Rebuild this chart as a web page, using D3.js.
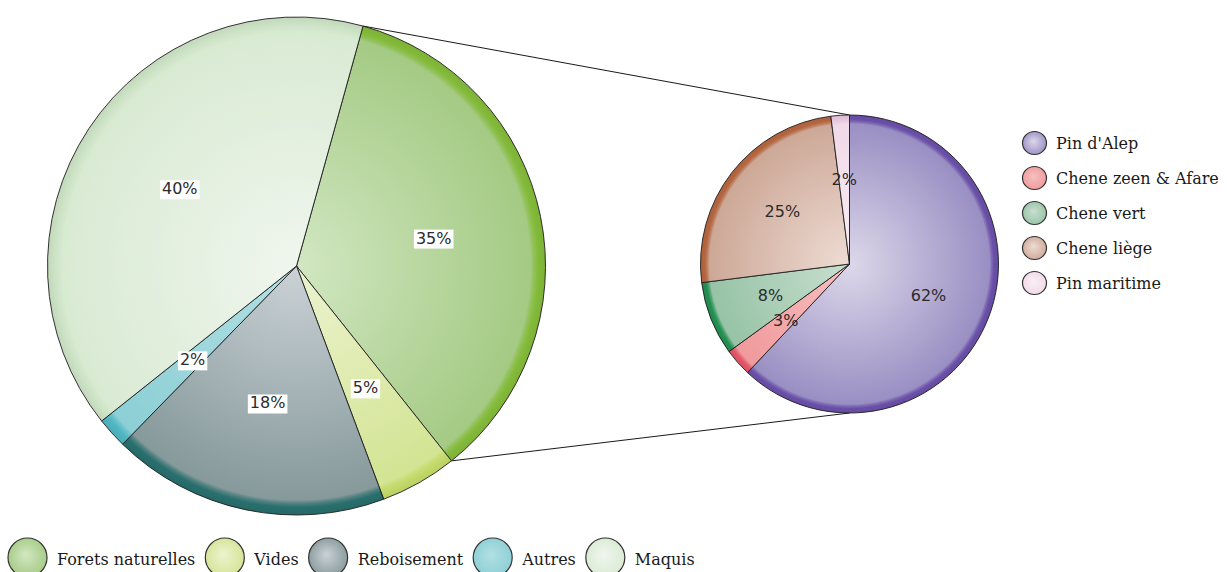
<!DOCTYPE html>
<html>
<head>
<meta charset="utf-8">
<script src="https://cdn.jsdelivr.net/npm/d3@7"></script>
<style>
html,body{margin:0;padding:0;background:#fff;}
svg{display:block;}
</style>
</head>
<body>
<svg id="chart" width="1227" height="572"></svg>
<script>
// ---- data ----
const bigCategories = ["Forets naturelles", "Vides", "Reboisement", "Autres", "Maquis"];
const bigValues = [35, 5, 18, 2, 40];
const bigLabels = ["35%", "5%", "18%", "2%", "40%"];

const smallCategories = ["Pin d'Alep", "Chene zeen & Afare", "Chene vert", "Chene liège", "Pin maritime"];
const smallValues = [62, 3, 8, 25, 2];
const smallLabels = ["62%", "3%", "8%", "25%", "2%"];

// colours: [centre, body, rim]
const bigColors = [
  ["#d2e7c2", "#a4ca84", "#84bb3a"],
  ["#ecf3d0", "#d3e493", "#c3da68"],
  ["#cbd2d6", "#86999b", "#286f6d"],
  ["#b2e0e4", "#8ccfd5", "#4fb6c2"],
  ["#f0f6ee", "#d9ead3", "#cde3c5"]
];
const smallColors = [
  ["#dcd8ea", "#9a8fc3", "#6a4fa8"],
  ["#f6c0c0", "#f09a9c", "#e25566"],
  ["#c8dfcf", "#97c3a6", "#239052"],
  ["#eedcd4", "#cda897", "#b4663f"],
  ["#faeef5", "#f1d9e8", "#e6c5da"]
];

// ---- layout ----
const svg = d3.select("#chart");
const defs = svg.append("defs");
const big = {cx: 296.5, cy: 266, r: 249, labelR: 140};
const small = {cx: 849.5, cy: 264, r: 149, labelR: 85};
const startDeg = 15.5;

function makeGrad(id, c, g) {
  // paths are drawn in a group translated to the pie centre
  const gr = defs.append("radialGradient").attr("id", id)
    .attr("gradientUnits", "userSpaceOnUse")
    .attr("cx", 0).attr("cy", 0).attr("r", g.r)
    .attr("fx", 0).attr("fy", 0);
  gr.append("stop").attr("offset", "0").attr("stop-color", c[0]);
  gr.append("stop").attr("offset", "0.94").attr("stop-color", c[1]);
  gr.append("stop").attr("offset", "0.955").attr("stop-color", d3.interpolateRgb(c[1], c[2])(0.6));
  gr.append("stop").attr("offset", "0.97").attr("stop-color", c[2]);
  gr.append("stop").attr("offset", "1").attr("stop-color", d3.color(c[2]).darker(0.15));
}
function makeLegendGrad(id, c) {
  const gr = defs.append("radialGradient").attr("id", id)
    .attr("cx", "0.5").attr("cy", "0.5").attr("r", "0.55").attr("fx", "0.45").attr("fy", "0.42");
  gr.append("stop").attr("offset", "0").attr("stop-color", c[0]);
  gr.append("stop").attr("offset", "1").attr("stop-color", c[1]);
}

bigColors.forEach((c, i) => { makeGrad("gb" + i, c, big); makeLegendGrad("lb" + i, c); });
smallColors.forEach((c, i) => { makeGrad("gs" + i, c, small); makeLegendGrad("ls" + i, c); });

const a0 = startDeg * Math.PI / 180;
const pie = d3.pie().sort(null).startAngle(a0).endAngle(a0 + 2 * Math.PI);
const bigArcs = pie(bigValues);
const smallPie = d3.pie().sort(null);
const smallArcs = smallPie(smallValues);

// connector lines (from split slice edges to top/bottom of second pie)
const split = bigArcs[0];
const pt = (g, a) => [g.cx + g.r * Math.sin(a), g.cy - g.r * Math.cos(a)];
const p1 = pt(big, split.startAngle), p2 = pt(big, split.endAngle);
const lines = [[p1, [small.cx, small.cy - small.r]], [p2, [small.cx, small.cy + small.r]]];
svg.append("g").selectAll("line").data(lines).join("line")
  .attr("x1", d => d[0][0]).attr("y1", d => d[0][1])
  .attr("x2", d => d[1][0]).attr("y2", d => d[1][1])
  .attr("stroke", "#1a1a1a").attr("stroke-width", 1);

function drawPie(arcs, g, prefix, labels, boxed) {
  const arc = d3.arc().innerRadius(0).outerRadius(g.r);
  const lab = d3.arc().innerRadius(g.labelR).outerRadius(g.labelR);
  const grp = svg.append("g").attr("transform", `translate(${g.cx},${g.cy})`);
  grp.selectAll("path").data(arcs).join("path")
    .attr("d", arc)
    .attr("fill", (d, i) => `url(#${prefix}${i})`)
    .attr("stroke", "#1e1e1e").attr("stroke-width", 0.9).attr("stroke-linejoin", "round");
  const lg = grp.append("g");
  arcs.forEach((d, i) => {
    const [x, y] = lab.centroid(d);
    const cell = lg.append("g").attr("transform", `translate(${x},${y})`);
    const rect = cell.append("rect").attr("fill", boxed ? "#fff" : "none");
    const t = cell.append("text")
      .attr("text-anchor", "middle").attr("dominant-baseline", "central")
      .attr("font-family", "'DejaVu Sans', Verdana, sans-serif").attr("font-size", 16)
      .attr("fill", "#2b2b2b").text(labels[i]);
    if (boxed) {
      const bb = t.node().getBBox();
      rect.attr("x", bb.x - 2).attr("y", bb.y + 1).attr("width", bb.width + 4).attr("height", bb.height);
    }
  });
}
drawPie(bigArcs, big, "gb", bigLabels, true);
drawPie(smallArcs, small, "gs", smallLabels, false);

// right legend
const rl = svg.append("g");
smallCategories.forEach((name, i) => {
  const y = 143 + i * 35;
  rl.append("ellipse").attr("cx", 1034.5).attr("cy", y).attr("rx", 12).attr("ry", 11.5)
    .attr("fill", `url(#ls${i})`).attr("stroke", "#333").attr("stroke-width", 1.2);
  rl.append("text").attr("x", 1056).attr("y", y + 5.5)
    .attr("font-family", "'DejaVu Serif', serif").attr("font-size", 16).attr("fill", "#1a1a1a").text(name);
});

// bottom legend
const bl = svg.append("g");
let cx = 27.5;
bigCategories.forEach((name, i) => {
  bl.append("ellipse").attr("cx", cx).attr("cy", 557.5).attr("rx", 19.5).attr("ry", 19.5)
    .attr("fill", `url(#lb${i})`).attr("stroke", "#333").attr("stroke-width", 1.2);
  const t = bl.append("text").attr("x", cx + 29.5).attr("y", 565)
    .attr("font-family", "'DejaVu Serif', serif").attr("font-size", 16).attr("fill", "#1a1a1a").text(name);
  cx = cx + 29.5 + t.node().getComputedTextLength() + 29.5;
});
</script>
</body>
</html>
